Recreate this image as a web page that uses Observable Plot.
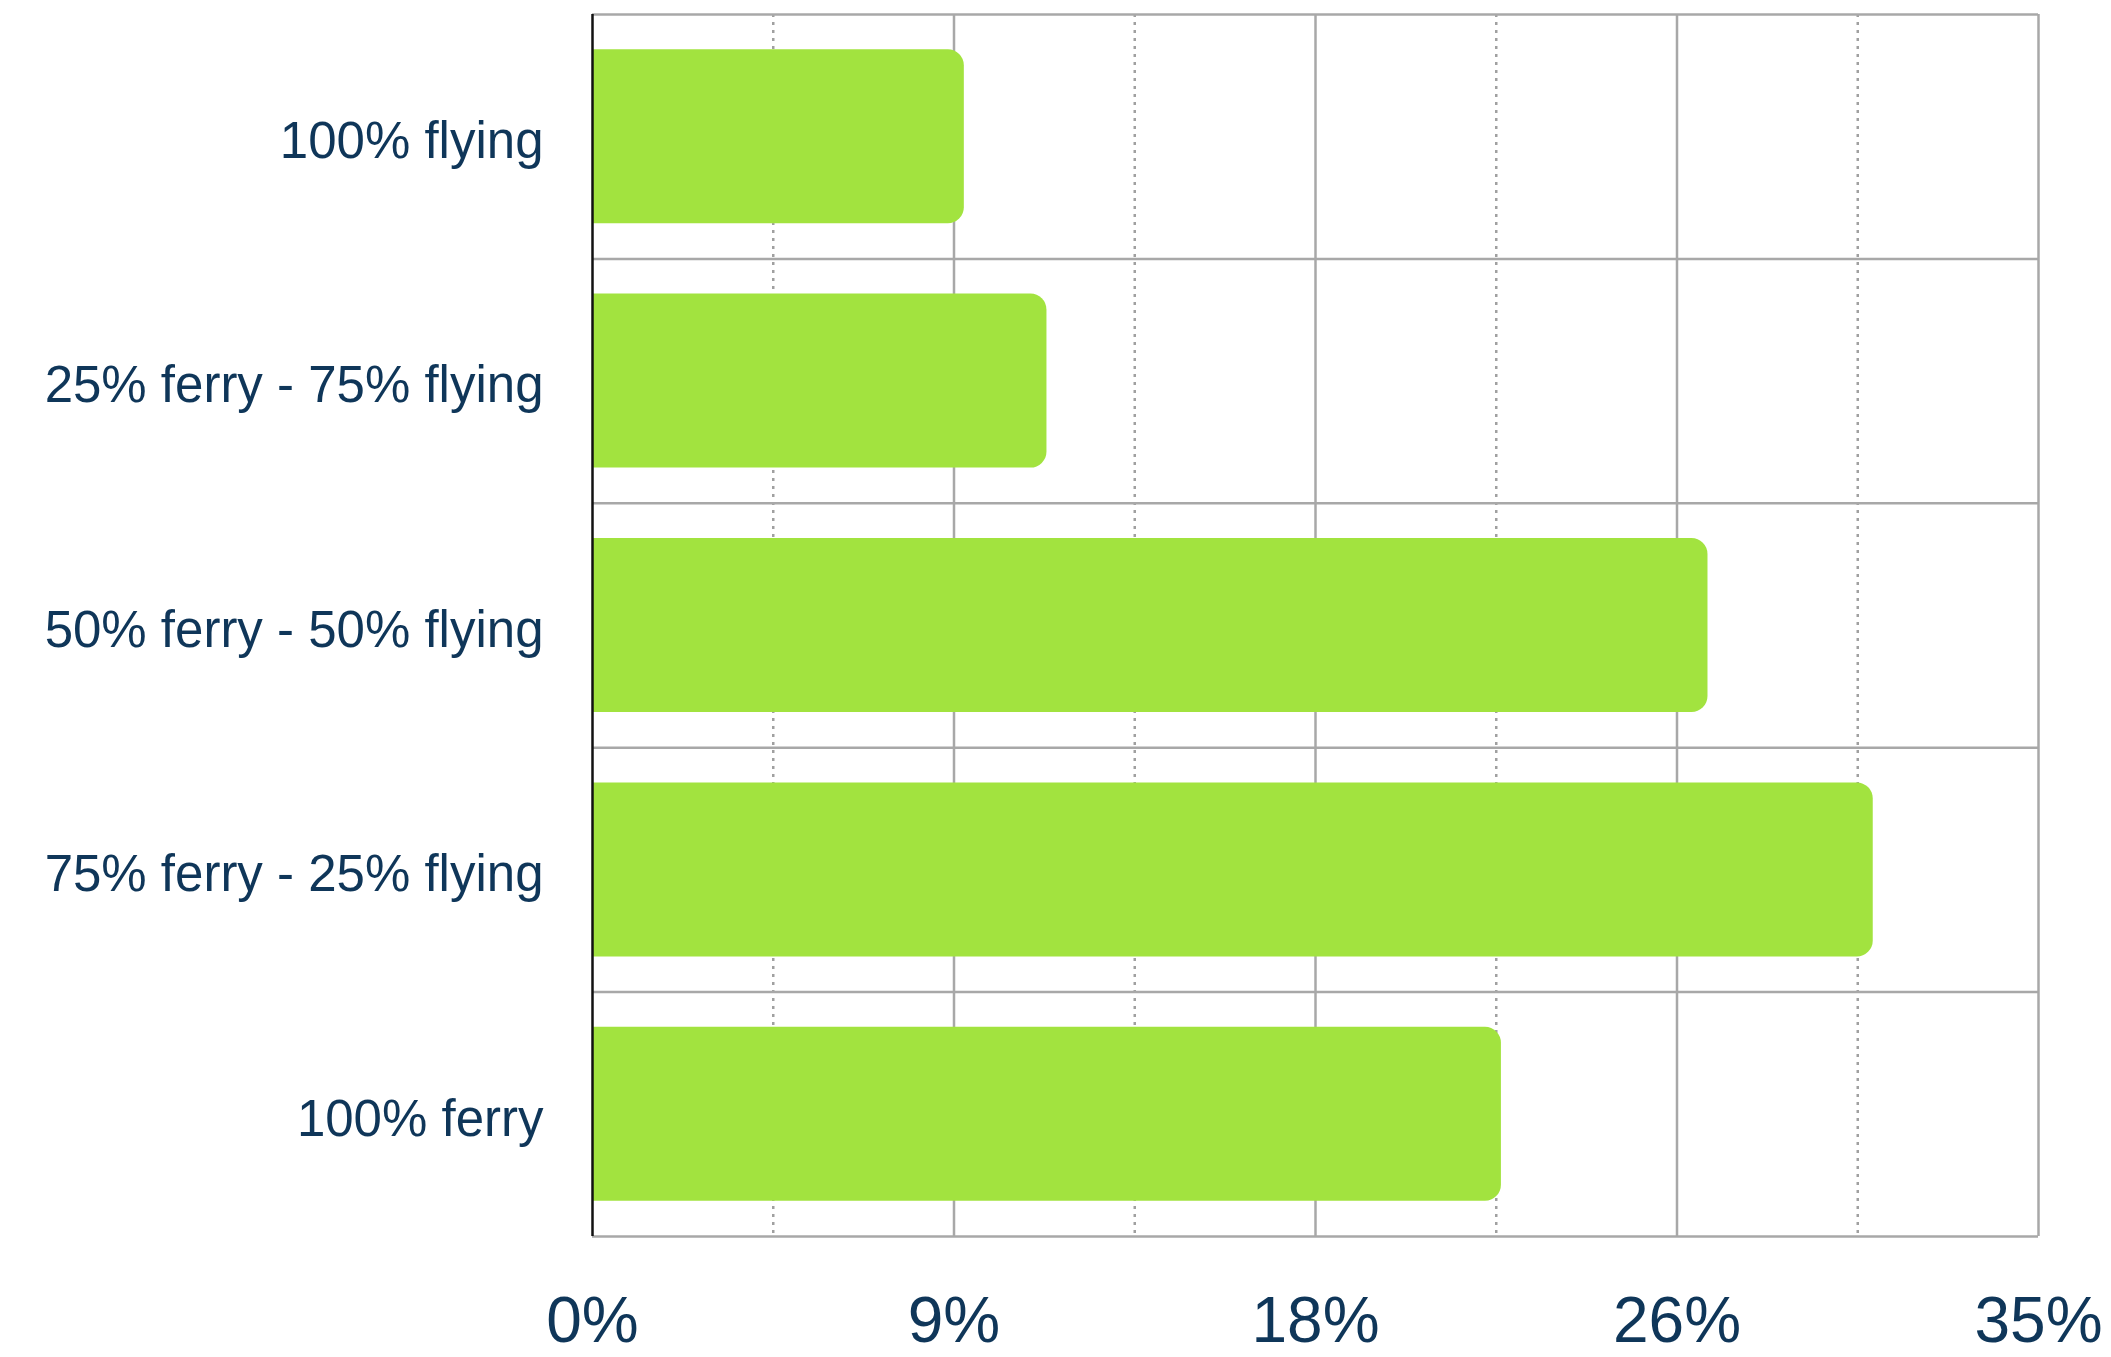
<!DOCTYPE html>
<html>
<head>
<meta charset="utf-8">
<script src="https://cdn.jsdelivr.net/npm/d3@7"></script>
<script src="https://cdn.jsdelivr.net/npm/@observablehq/plot@0.6"></script>
<style>
  html, body { margin: 0; padding: 0; background: #ffffff; }
  #chart { width: 2111px; height: 1357px; }
</style>
</head>
<body>
<div id="chart"></div>
<script>
// ---- data ----
const categories = [
  "100% flying",
  "25% ferry - 75% flying",
  "50% ferry - 50% flying",
  "75% ferry - 25% flying",
  "100% ferry"
];
const shares = [9, 11, 27, 31, 22];           // percent
const xTicks = [0, 8.75, 17.5, 26.25, 35];     // major grid
const xTickLabels = ["0%", "9%", "18%", "26%", "35%"];
const xMinorTicks = [4.375, 13.125, 21.875, 30.625];
const rowEdges = [0, 1, 2, 3, 4, 5];

const rows = categories.map((c, i) => ({ cat: c, i, v: shares[i] }));

const textColor = "#0f3659";
const gridColor = "#a8a8a8";
const dotColor = "#a0a0a0";
const barColor = "#a2e33f";
const bandPad = 0.144;

const chart = Plot.plot({
  width: 2111,
  height: 1357,
  marginLeft: 592,
  marginRight: 73,
  marginTop: 14,
  marginBottom: 121,
  style: { fontFamily: "'Liberation Sans', Arial, sans-serif", background: "#fff", overflow: "visible" },
  x: { domain: [0, 35], axis: null, label: null },
  y: { domain: [0, 5], reverse: true, axis: null, label: null },
  marks: [
    Plot.ruleX(xMinorTicks, { stroke: dotColor, strokeWidth: 2.5, strokeDasharray: "3,5" }),
    Plot.ruleX(xTicks.slice(1), { stroke: gridColor, strokeWidth: 2.5 }),
    Plot.ruleY(rowEdges, { stroke: gridColor, strokeWidth: 2.5, x1: 0, x2: 35 }),
    Plot.rectX(rows, {
      x1: 0, x2: "v",
      y1: d => d.i + bandPad, y2: d => d.i + 1 - bandPad,
      fill: barColor, rx: 16, insetLeft: -30, clip: true
    }),
    Plot.ruleX([0], { stroke: "#111", strokeWidth: 2.5 }),
    Plot.axisY(rowEdges.slice(0, 5).map(i => i + 0.5), {
      tickSize: 0, tickPadding: 49, fontSize: 51, fill: textColor, dy: 5,
      label: null,
      tickFormat: (d) => categories[Math.floor(d)]
    }),
    Plot.axisX(xTicks, {
      tickSize: 0, tickPadding: 60, fontSize: 64, fill: textColor,
      label: null,
      tickFormat: (d) => xTickLabels[xTicks.indexOf(d)]
    })
  ]
});
document.getElementById("chart").appendChild(chart);
</script>
</body>
</html>
